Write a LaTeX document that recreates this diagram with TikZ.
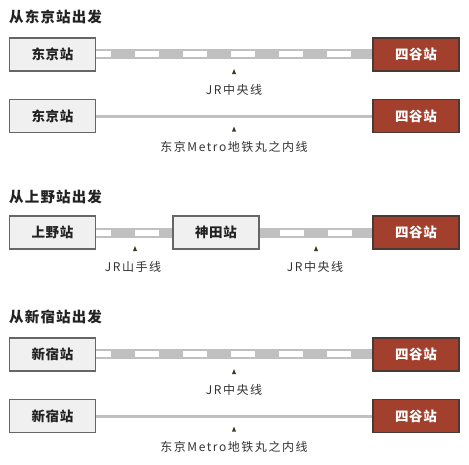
\documentclass[tikz,border=0pt]{standalone}
\usepackage{fontspec}
\setmainfont{Noto Sans CJK SC}
\newfontfamily\ttlfont[LetterSpace=8]{Noto Sans CJK SC}
\newfontfamily\boxfont[LetterSpace=5]{Noto Sans CJK SC}
\newfontfamily\lblfont[LetterSpace=13]{Noto Sans CJK SC}
\usetikzlibrary{calc}
\pgfdeclarelayer{bg}
\pgfsetlayers{bg,main}
\definecolor{boxfill}{HTML}{F0F0F0}
\definecolor{boxline}{HTML}{666666}
\definecolor{redfill}{HTML}{A33F2D}
\definecolor{redline}{HTML}{4A3A35}
\definecolor{bandgrey}{HTML}{C0C0C0}
\definecolor{txt}{HTML}{222222}
\definecolor{lbltxt}{HTML}{333333}
\definecolor{mkcol}{HTML}{3A3A22}
\tikzset{
  stn/.style={draw=boxline, fill=boxfill, line width=1.5pt, minimum width=86pt, minimum height=33pt, inner sep=0pt, font=\boxfont\fontsize{13.5}{13.5}\selectfont\bfseries, text=txt},
  dest/.style={stn, draw=redline, fill=redfill, text=white},
  ttl/.style={anchor=west, inner sep=0pt, font=\ttlfont\fontsize{14.5}{14.5}\selectfont\bfseries, text=txt},
  lbl/.style={inner sep=0pt, font=\lblfont\fontsize{12}{12}\selectfont, text=lbltxt},
  band/.style={draw=bandgrey, line width=10pt},
  bandw/.style={draw=white, line width=6pt, dash pattern=on 24pt off 24pt},
  solidline/.style={draw=bandgrey, line width=3pt},
  mk/.style={fill=mkcol},
}
\begin{document}
\begin{tikzpicture}[x=1pt,y=-1pt]
\useasboundingbox (0,0) rectangle (469,464);
% ---------- section 1
\node[ttl] (t1) at (9,16.5) {从东京站出发};
\node[stn]  (a1) at (52.5,54.3) {东京站};
\node[dest] (b1) at (416,54.3) {四谷站};
\coordinate (m1) at (234,74);
\node[lbl] (l1) at (234,89.5) {JR中央线};
\node[stn]  (a2) at (52.5,116) {东京站};
\node[dest] (b2) at (416,116) {四谷站};
\coordinate (m2) at (234,131.5);
\node[lbl] (l2) at (234,146.5) {东京Metro地铁丸之内线};
% ---------- section 2
\node[ttl] (t2) at (9,196.5) {从上野站出发};
\node[stn]  (a3) at (52.5,232.5) {上野站};
\node[stn]  (c3) at (216,232.5) {神田站};
\node[dest] (b3) at (416,232.5) {四谷站};
\coordinate (m3) at (135,251);
\node[lbl] (l3) at (133,267) {JR山手线};
\coordinate (m4) at (316,251);
\node[lbl] (l4) at (315,267) {JR中央线};
% ---------- section 3
\node[ttl] (t3) at (9,317) {从新宿站出发};
\node[stn]  (a5) at (52.5,354.3) {新宿站};
\node[dest] (b5) at (416,354.3) {四谷站};
\coordinate (m5) at (234,374);
\node[lbl] (l5) at (234,390) {JR中央线};
\node[stn]  (a6) at (52.5,416) {新宿站};
\node[dest] (b6) at (416,416) {四谷站};
\coordinate (m6) at (234,431.5);
\node[lbl] (l6) at (234,446.5) {东京Metro地铁丸之内线};
% ---------- connectors
\begin{pgfonlayer}{bg}
  \draw[band] (a1.east) -- (b1.west);
  \draw[bandw, dash phase=9pt] (a1.east) -- (b1.west);
  \draw[solidline] (a2.east) -- (b2.west);
  \draw[band] (a3.east) -- (c3.west);
  \draw[bandw, dash phase=9pt] (a3.east) -- (c3.west);
  \draw[band] (c3.east) -- (b3.west);
  \draw[bandw, dash phase=28pt] (c3.east) -- (b3.west);
  \draw[band] (a5.east) -- (b5.west);
  \draw[bandw, dash phase=9pt] (a5.east) -- (b5.west);
  \draw[solidline] (a6.east) -- (b6.west);
\end{pgfonlayer}
% ---------- markers
\foreach \m in {m1,m2,m3,m4,m5,m6}
  \fill[mk] (\m) ++(-2,0) -- ++(4,0) -- ++(-2,-5) -- cycle;
\end{tikzpicture}
\end{document}
